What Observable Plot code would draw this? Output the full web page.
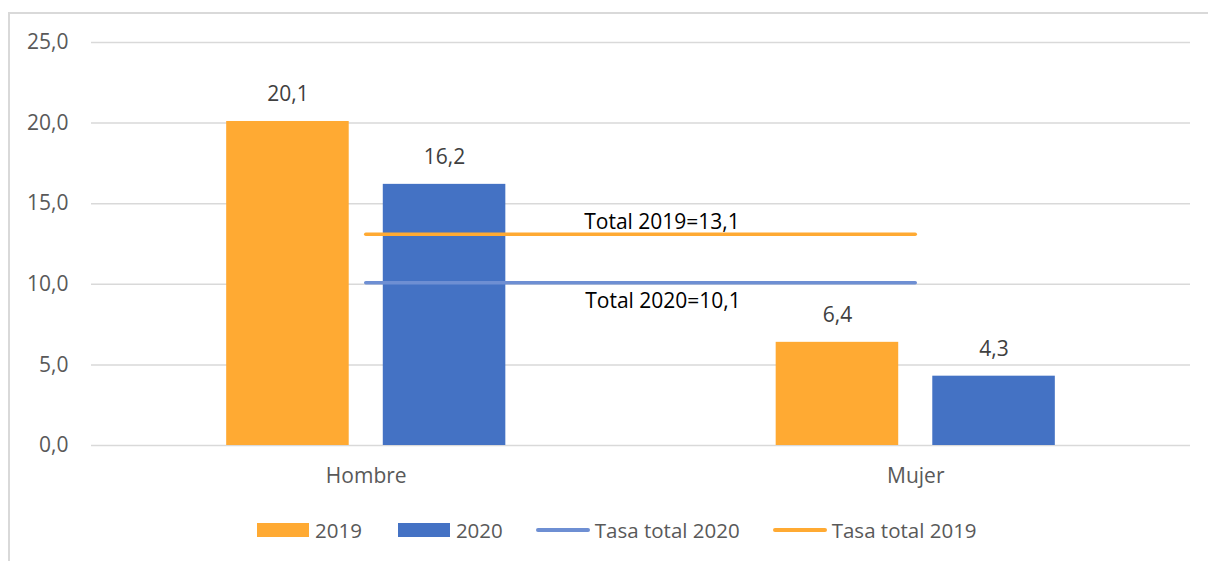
<!DOCTYPE html>
<html><head><meta charset="utf-8">
<script src="https://cdn.jsdelivr.net/npm/d3@7"></script>
<script src="https://cdn.jsdelivr.net/npm/@observablehq/plot@0.6"></script>
<style>
body{margin:0;background:#fff;font-family:"Open Sans",sans-serif;width:1208px;height:561px;overflow:hidden;position:relative;}
#frame{position:absolute;left:8px;top:12px;width:1300px;height:600px;border:2px solid #d9d9d9;box-sizing:border-box;}
#chart{position:absolute;left:0;top:0;}
#legend{position:absolute;top:516px;left:257px;display:flex;align-items:center;font-size:20.5px;color:#595959;white-space:nowrap;}
#legend .item{display:flex;align-items:center;}
#legend .box{width:52px;height:14px;margin-right:6px;}
#legend .line{width:54px;height:4px;border-radius:2px;margin-right:5px;}
</style></head><body>
<div id="frame"></div><div id="chart"></div><div id="legend"></div>
<script>
// ---- data ----
const categories = ["Hombre", "Mujer"];
const years = ["2019", "2020"];
const values2019 = [20.1, 6.4];
const values2020 = [16.2, 4.3];
const totalYears = ["2019", "2020"];
const totalValues = [13.1, 10.1];
const totalLabels = ["Total 2019=13,1", "Total 2020=10,1"];
const yTicks = [0, 5, 10, 15, 20, 25];
const legendLabels = ["2019", "2020", "Tasa total 2020", "Tasa total 2019"];

// ---- styles ----
const barColor = {"2019": "#FFAA33", "2020": "#4472C4"};
const lineColor = {"2019": "#FFAA33", "2020": "#6E8FD3"};
const innerOff = 0.031, outerOff = 0.254;

const fmt = v => v.toFixed(1).replace(".", ",");

const bars = categories.flatMap((c, i) => years.map((y, j) => ({
  cat: c, idx: i, year: y, value: (j === 0 ? values2019 : values2020)[i]
})));
bars.forEach(d => {
  d.x1 = d.idx + (d.year === "2019" ? -outerOff : innerOff);
  d.x2 = d.idx + (d.year === "2019" ? -innerOff : outerOff);
  d.xm = (d.x1 + d.x2) / 2;
});
const totals = totalYears.map((y, i) => ({
  year: y, value: totalValues[i], label: totalLabels[i],
  xa: 0, xb: categories.length - 1, xm: (categories.length - 1) / 2
}));

const plot = Plot.plot({
  width: 1208, height: 500,
  marginLeft: 91, marginRight: 18, marginTop: 42, marginBottom: 55,
  style: {fontFamily: "Open Sans", fontSize: "21px", background: "transparent"},
  x: {type: "linear", domain: [-0.5, categories.length - 0.5]},
  y: {domain: [0, 25]},
  marks: [
    Plot.ruleY(yTicks, {stroke: "#d9d9d9", strokeWidth: 1.5}),
    Plot.axisY({ticks: yTicks, tickSize: 0, tickPadding: 23, tickFormat: fmt, label: null, fontSize: 21, color: "#595959"}),
    Plot.axisX({ticks: categories.map((c, i) => i), tickFormat: i => categories[i], tickSize: 0, tickPadding: 23, label: null, fontSize: 21, color: "#595959"}),
    Plot.rectY(bars, {x1: "x1", x2: "x2", y: "value", fill: d => barColor[d.year]}),
    Plot.text(bars, {x: "xm", y: "value", text: d => fmt(d.value), lineAnchor: "bottom", dy: -20, fill: "#404040", fontSize: 21}),
    Plot.ruleY(totals, {x1: "xa", x2: "xb", y: "value", stroke: d => lineColor[d.year], strokeWidth: 3.5, strokeLinecap: "round"}),
    Plot.text(totals.filter(d => d.year === "2019"), {x: "xm", y: "value", text: "label", lineAnchor: "bottom", dy: -5, dx: 21, fill: "#000", fontSize: 21}),
    Plot.text(totals.filter(d => d.year === "2020"), {x: "xm", y: "value", text: "label", lineAnchor: "top", dy: 10, dx: 22, fill: "#000", fontSize: 21})
  ]
});
document.getElementById("chart").appendChild(plot);

// ---- legend ----
const legend = document.getElementById("legend");
const legendItems = [
  {label: legendLabels[0], type: "box", color: barColor["2019"]},
  {label: legendLabels[1], type: "box", color: barColor["2020"]},
  {label: legendLabels[2], type: "line", color: lineColor["2020"]},
  {label: legendLabels[3], type: "line", color: lineColor["2019"]}
];
legendItems.forEach((it, i) => {
  const item = document.createElement("div");
  item.className = "item";
  item.style.marginRight = i < legendItems.length - 1 ? (it.type === "box" && i === 0 ? "36px" : "33px") : "0";
  const sw = document.createElement("div");
  sw.className = it.type;
  sw.style.background = it.color;
  const tx = document.createElement("span");
  tx.textContent = it.label;
  item.appendChild(sw); item.appendChild(tx);
  legend.appendChild(item);
});
</script>
</body></html>
